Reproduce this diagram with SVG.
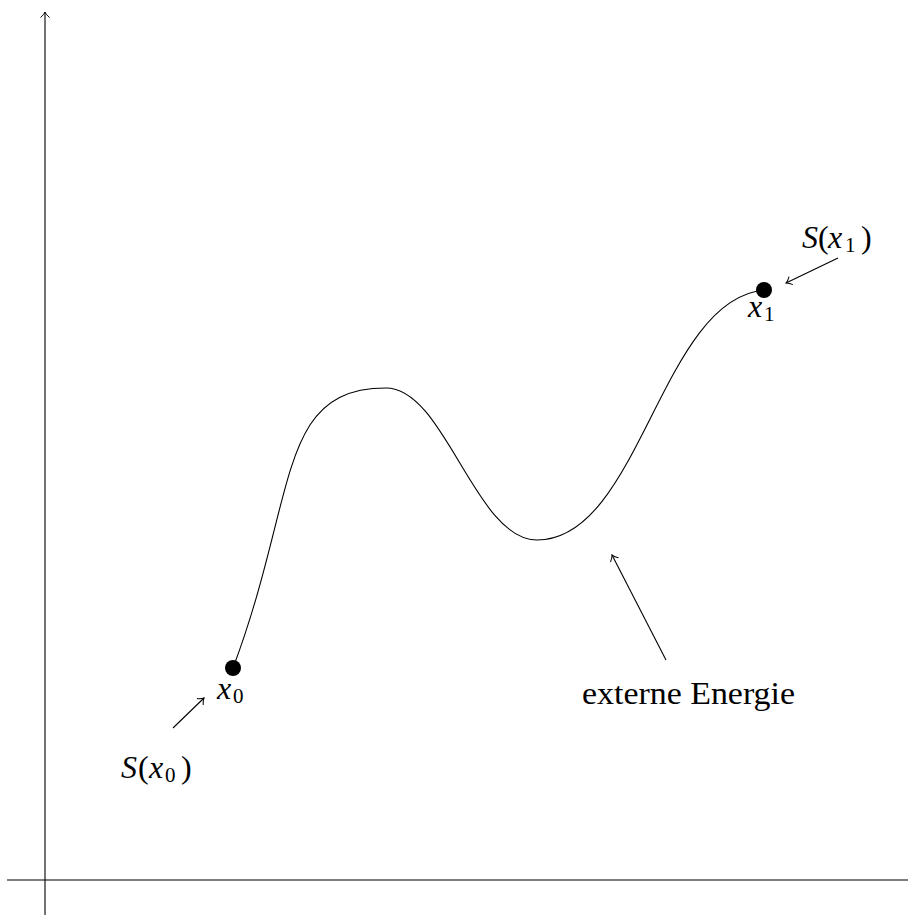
<svg xmlns="http://www.w3.org/2000/svg" width="908" height="915" viewBox="0 0 908 915">
<style>
.ln{stroke:#000;stroke-width:1.1;fill:none}
.t{font-family:"Liberation Serif","DejaVu Serif",serif;font-size:32px;fill:#000}
.i{font-style:italic}
.sub{font-size:21px}
</style>
<defs>
<marker id="ah" markerUnits="userSpaceOnUse" markerWidth="14" markerHeight="14" refX="0" refY="0" viewBox="-7 -7 14 14" orient="auto" overflow="visible">
<path d="M-5.5,-4.5 C-3.5,-2 -1.2,-0.5 0,0 C-1.2,0.5 -3.5,2 -5.5,4.5" fill="none" stroke="#000" stroke-width="1"/>
</marker>
</defs>
<rect width="908" height="915" fill="#fff"/>
<g id="axes">
<line class="ln" x1="45" y1="915" x2="45" y2="12" marker-end="url(#ah)"/>
<line class="ln" x1="7" y1="880" x2="908" y2="880" stroke-width="1.2"/>
</g>
<g id="curve">
<path class="ln" d="M233,668 C298,495 276,388 386,388 C445,388 475,540 537,540 C640,540 660,300 764,290"/>
</g>
<g id="x0">
<circle cx="233" cy="668" r="8" fill="#000"/>
<text class="t" y="699"><tspan class="i" x="217">x</tspan><tspan class="sub" x="233" dy="4">0</tspan></text>
</g>
<g id="x1">
<circle cx="764" cy="290" r="8" fill="#000"/>
<text class="t" y="317"><tspan class="i" x="748">x</tspan><tspan class="sub" x="764" dy="4">1</tspan></text>
</g>
<g id="S0">
<text class="t" y="778"><tspan class="i" x="121">S</tspan><tspan x="138">(</tspan><tspan class="i" x="149">x</tspan><tspan class="sub" x="165" dy="4">0</tspan><tspan x="181" dy="-4">)</tspan></text>
</g>
<g id="S1">
<text class="t" y="248"><tspan class="i" x="802">S</tspan><tspan x="818">(</tspan><tspan class="i" x="828">x</tspan><tspan class="sub" x="845" dy="4">1</tspan><tspan x="861" dy="-4">)</tspan></text>
</g>
<g id="energie">
<text class="t" x="582" y="704" textLength="213" lengthAdjust="spacingAndGlyphs">externe Energie</text>
</g>
<g id="connectors">
<line class="ln" x1="173" y1="728" x2="204" y2="698" marker-end="url(#ah)"/>
<line class="ln" x1="838" y1="258" x2="786" y2="283" marker-end="url(#ah)"/>
<line class="ln" x1="666" y1="660" x2="612" y2="555" marker-end="url(#ah)"/>
</g>
</svg>
